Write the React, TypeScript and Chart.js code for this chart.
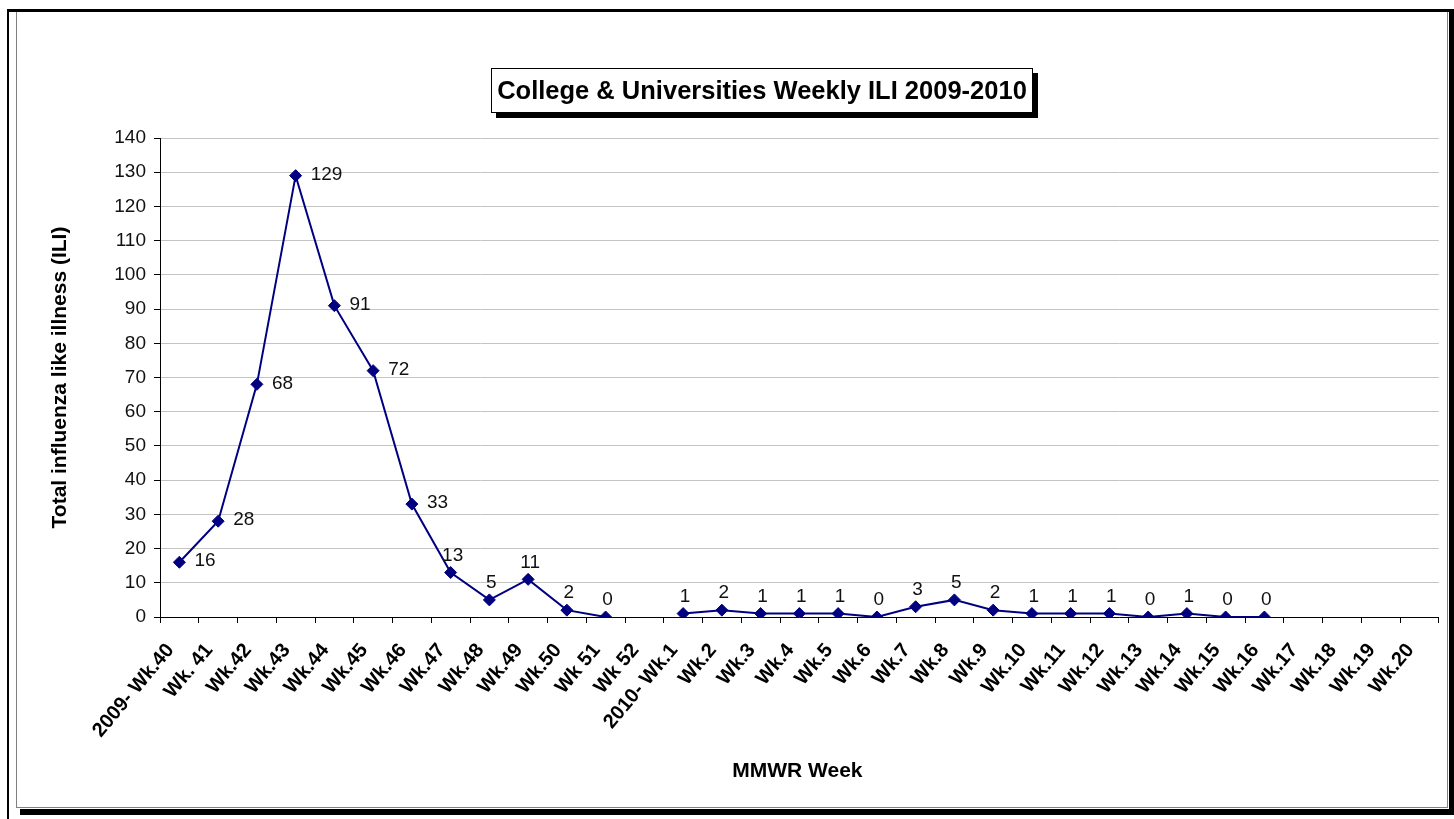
import React, { useEffect, useRef } from "react";
import { Chart, registerables } from "chart.js";

Chart.register(...registerables);

const chartTitle = "College & Universities Weekly ILI 2009-2010";
const yAxisTitle = "Total influenza like illness (ILI)";
const xAxisTitle = "MMWR Week";

const weeks = [
  "2009- Wk.40", "Wk. 41", "Wk.42", "Wk.43", "Wk.44", "Wk.45", "Wk.46", "Wk.47",
  "Wk.48", "Wk.49", "Wk.50", "Wk 51", "Wk 52",
  "2010- Wk.1", "Wk.2", "Wk.3", "Wk.4", "Wk.5", "Wk.6", "Wk.7", "Wk.8", "Wk.9",
  "Wk.10", "Wk.11", "Wk.12", "Wk.13", "Wk.14", "Wk.15", "Wk.16", "Wk.17",
  "Wk.18", "Wk.19", "Wk.20",
];

const iliCounts: (number | null)[] = [
  16, 28, 68, 129, 91, 72, 33, 13, 5, 11, 2, 0, null,
  1, 2, 1, 1, 1, 0, 3, 5, 2, 1, 1, 1, 0, 1, 0, 0, null, null, null, null,
];

const yMin = 0;
const yMax = 140;
const yStep = 10;

const FONT = '"Liberation Sans", Arial, sans-serif';
const NAVY = "#000080";

const decorPlugin = {
  id: "decor",
  beforeDraw(chart: any) {
    const ctx = chart.ctx;
    const w = chart.width;
    const h = chart.height;
    ctx.save();
    ctx.fillStyle = "#fff";
    ctx.fillRect(0, 0, w, h);
    // outer frame
    ctx.fillStyle = "#000";
    ctx.fillRect(7, 9, 1442, 3);
    ctx.fillRect(7, 9, 2, h - 9);
    // inner chart border
    ctx.fillStyle = "#808080";
    ctx.fillRect(16, 12, 1, 796);
    ctx.fillRect(16, 807, 1432, 1);
    ctx.fillRect(1447, 12, 1, 796);
    // shadow
    ctx.fillStyle = "#000";
    ctx.fillRect(20, 809, 1434, 6);
    ctx.fillRect(1449, 9, 5, 806);
    ctx.restore();
  },
  afterDraw(chart: any) {
    const ctx = chart.ctx;
    const area = chart.chartArea;
    ctx.save();
    // title box
    const bx = 491, by = 68, bw = 542, bh = 45;
    ctx.fillStyle = "#000";
    ctx.fillRect(bx + 5, by + 5, bw, bh);
    ctx.fillStyle = "#fff";
    ctx.fillRect(bx, by, bw, bh);
    ctx.strokeStyle = "#000";
    ctx.lineWidth = 1;
    ctx.strokeRect(bx + 0.5, by + 0.5, bw - 1, bh - 1);
    ctx.fillStyle = "#000";
    ctx.font = `bold 25.5px ${FONT}`;
    ctx.textAlign = "center";
    ctx.textBaseline = "middle";
    ctx.fillText(chartTitle, bx + bw / 2, by + bh / 2 + 1);

    // axis titles
    ctx.font = `bold 21px ${FONT}`;
    ctx.fillText(xAxisTitle, (area.left + area.right) / 2 - 2, 771);
    ctx.save();
    ctx.translate(60, (area.top + area.bottom) / 2);
    ctx.rotate(-Math.PI / 2);
    ctx.fillText(yAxisTitle, 0, 0);
    ctx.restore();

    // data labels
    const meta = chart.getDatasetMeta(0);
    ctx.font = `19px ${FONT}`;
    ctx.fillStyle = "#111";
    meta.data.forEach((pt: any, i: number) => {
      const v = iliCounts[i];
      if (v === null || v === undefined) return;
      if (v > 15) {
        ctx.textAlign = "left";
        ctx.fillText(String(v), pt.x + 15, pt.y - 1);
      } else {
        ctx.textAlign = "center";
        ctx.fillText(String(v), pt.x + 2, pt.y - 17);
      }
    });
    ctx.restore();
  },
};

export default function App() {
  const canvasRef = useRef<HTMLCanvasElement | null>(null);

  useEffect(() => {
    const canvas = canvasRef.current;
    if (!canvas) return;
    const chart = new Chart(canvas, {
      type: "line",
      data: {
        labels: weeks,
        datasets: [
          {
            data: iliCounts,
            borderColor: NAVY,
            backgroundColor: NAVY,
            borderWidth: 2,
            pointStyle: "rectRot",
            pointRadius: 6,
            pointBackgroundColor: NAVY,
            pointBorderColor: NAVY,
            pointBorderWidth: 1,
            spanGaps: false,
            tension: 0,
          },
        ],
      },
      options: {
        responsive: false,
        animation: false,
        devicePixelRatio: 1,
        layout: { padding: { left: 40, top: 138, right: 14, bottom: 0 } },
        plugins: {
          legend: { display: false },
          tooltip: { enabled: false },
          title: { display: false },
        },
        scales: {
          x: {
            type: "category",
            offset: true,
            afterFit: (scale: any) => {
              scale.height = 202;
            },
            border: { display: true, color: "#000", width: 1 },
            grid: {
              display: true,
              offset: true,
              drawOnChartArea: false,
              drawTicks: true,
              tickLength: 6,
              tickColor: "#000",
              color: "#000",
            },
            ticks: {
              autoSkip: false,
              minRotation: 50,
              maxRotation: 50,
              padding: 16,
              labelOffset: -9,
              color: "#000",
              font: { family: FONT, size: 20, weight: "bold" },
            },
          },
          y: {
            min: yMin,
            max: yMax,
            afterFit: (scale: any) => {
              scale.width = 120;
            },
            border: { display: true, color: "#000", width: 1 },
            grid: {
              color: "#c4c4c4",
              lineWidth: 1,
              drawTicks: true,
              tickLength: 6,
              tickColor: "#000",
            },
            ticks: {
              stepSize: yStep,
              padding: 8,
              color: "#111",
              font: { family: FONT, size: 19 },
            },
          },
        },
      },
      plugins: [decorPlugin],
    } as any);
    return () => chart.destroy();
  }, []);

  return (
    <div style={{ position: "absolute", left: 0, top: 0, width: 1454, height: 819 }}>
      <canvas
        ref={canvasRef}
        width={1454}
        height={819}
        style={{ display: "block", width: 1454, height: 819 }}
      />
    </div>
  );
}
